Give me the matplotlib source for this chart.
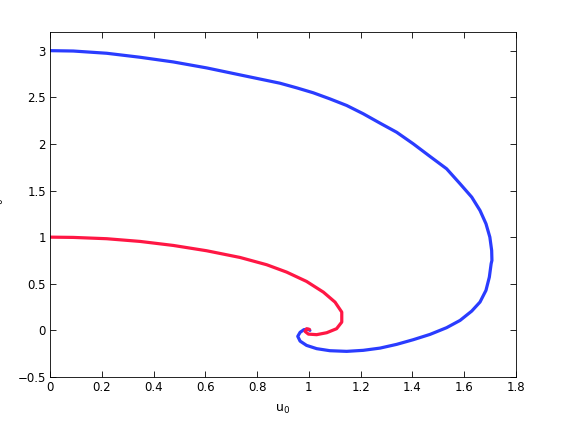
import numpy as np
import matplotlib.pyplot as plt

# Trajectories
blue_u = [0.0, 0.09, 0.219, 0.348, 0.476, 0.605, 0.734, 0.888, 0.953, 1.017,
          1.081, 1.146, 1.210, 1.275, 1.339, 1.403, 1.468, 1.532, 1.584, 1.629, 1.661,
          1.684, 1.699, 1.706, 1.707, 1.704, 1.697, 1.684, 1.661, 1.629, 1.584, 1.532,
          1.468, 1.403, 1.339, 1.275, 1.210, 1.146, 1.081, 1.030, 0.991, 0.966, 0.957,
          0.966, 0.981, 0.998, 1.004]
blue_v = [3.0, 2.996, 2.972, 2.929, 2.879, 2.815, 2.74, 2.651, 2.601, 2.548,
          2.483, 2.412, 2.323, 2.222, 2.125, 2.001, 1.865, 1.733, 1.572, 1.429, 1.286,
          1.144, 1.0, 0.857, 0.75, 0.715, 0.571, 0.429, 0.304, 0.207, 0.107, 0.029,
          -0.043, -0.100, -0.150, -0.190, -0.214, -0.225, -0.218, -0.196, -0.161, -0.115,
          -0.064, -0.021, 0.008, 0.011, 0.0]

red_u = [0.0, 0.09, 0.219, 0.348, 0.476, 0.605, 0.734, 0.837, 0.914, 0.991, 1.056,
         1.101, 1.127, 1.127, 1.107, 1.069, 1.030, 0.998, 0.985, 0.991, 1.002]
red_v = [1.0, 0.997, 0.983, 0.954, 0.911, 0.854, 0.782, 0.704, 0.625, 0.525, 0.410,
         0.303, 0.196, 0.089, 0.018, -0.025, -0.046, -0.040, -0.011, 0.018, 0.011]

x_ticks = [0, 0.2, 0.4, 0.6, 0.8, 1, 1.2, 1.4, 1.6, 1.8]
y_ticks = [-0.5, 0, 0.5, 1, 1.5, 2, 2.5, 3]

fig = plt.figure(figsize=(5.74, 4.23), dpi=100)
ax = fig.add_axes([50/574, 46/423, 466/574, 345/423])

ax.plot(blue_u, blue_v, color='#2a3cff', linewidth=2.3,
        solid_capstyle='round', solid_joinstyle='round')
ax.plot(red_u, red_v, color='#ff1744', linewidth=2.3,
        solid_capstyle='round', solid_joinstyle='round')

ax.set_xlim(0, 1.8)
ax.set_ylim(-0.5, 3.2)
ax.set_xticks(x_ticks)
ax.set_xticklabels(['0', '0.2', '0.4', '0.6', '0.8', '1', '1.2', '1.4', '1.6', '1.8'])
ax.set_yticks(y_ticks)
ax.set_yticklabels(['\u22120.5', '0', '0.5', '1', '1.5', '2', '2.5', '3'])
ax.tick_params(direction='in', length=4, width=0.6, top=True, right=True,
               labelsize=8.5, pad=3)
for s in ax.spines.values():
    s.set_linewidth(0.6)

ax.set_xlabel('u$_0$', fontsize=9, labelpad=6)
ax.set_ylabel('v$_0$', fontsize=9)
ax.yaxis.set_label_coords(-0.094, 0.5)

fig.savefig('out.png', dpi=100)
